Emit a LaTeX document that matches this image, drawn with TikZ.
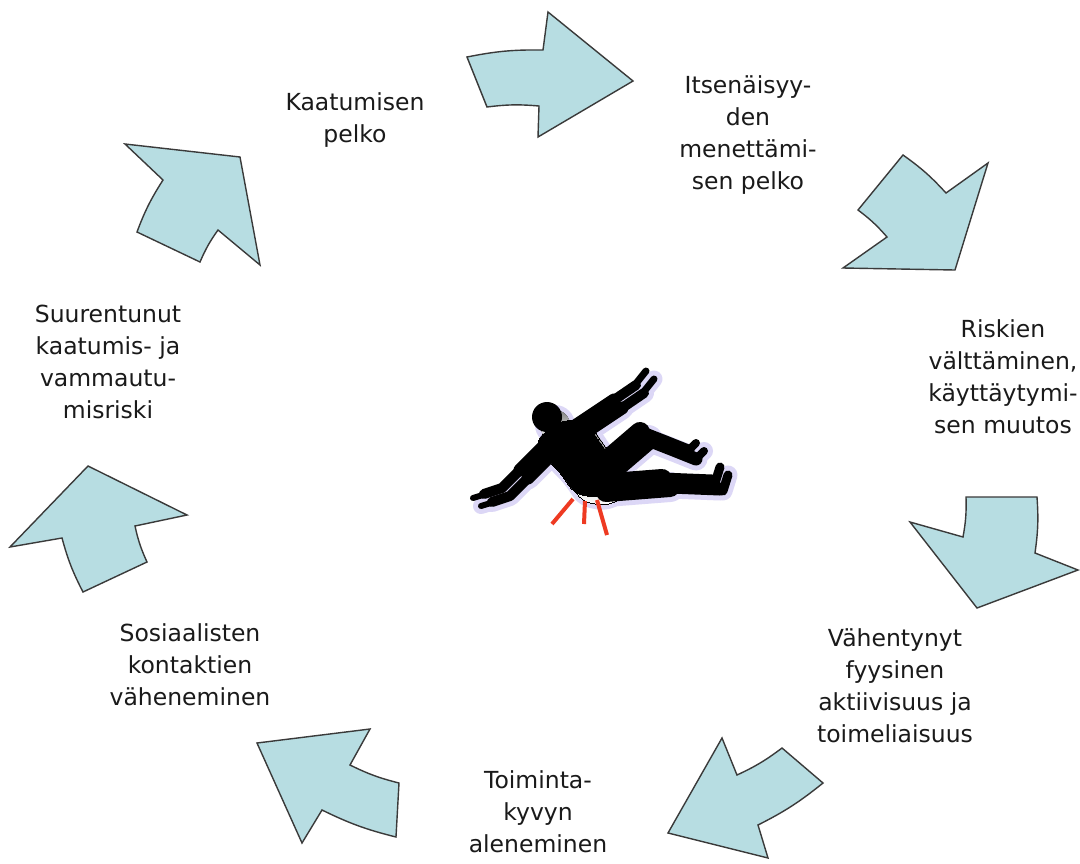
\documentclass[tikz,border=0pt]{standalone}
\usepackage{fontspec}
\setmainfont{DejaVu Sans}
\definecolor{arrfill}{HTML}{B7DDE2}
\definecolor{arrline}{HTML}{3A3A3A}
\definecolor{txt}{HTML}{1A1A1A}
\definecolor{shade}{HTML}{B4AAE8}
\definecolor{shadeout}{HTML}{DCD7F6}
\definecolor{hurt}{HTML}{EE3A22}
\tikzset{
  blockarrow/.style={fill=arrfill, draw=arrline, line width=1.4pt, line join=miter},
  label/.style={text=txt, align=center, font=\fontsize{23.5}{32}\selectfont, inner sep=0pt},
  limb/.style={line width=#1, line cap=round, line join=round},
}
\newcommand\fallfig[2][0pt]{%
  \fill[#2] (547,417) circle ({15pt+#1/2});
  \filldraw[#2, line width=#1, line join=round, rounded corners=8] (536,440) -- (558,422) -- (584,419) -- (598,440) -- (616,464) -- (616,490) -- (596,498) -- (574,493) -- (560,472) -- (544,456) -- cycle;
  \draw[#2, limb={13pt+#1}] (572,428) -- (614,400);
  \draw[#2, limb={10pt+#1}] (614,400) -- (636,385);
  \draw[#2, limb={7pt+#1}] (634,386) -- (646,371);
  \draw[#2, limb={13pt+#1}] (546,444) -- (520,470);
  \draw[#2, limb={10pt+#1}] (520,470) -- (502,488) -- (484,494);
  \draw[#2, limb={6pt+#1}] (486,494) -- (473,498);
  \draw[#2, limb={20pt+#1}] (598,468) -- (640,432);
  \draw[#2, limb={13pt+#1}] (640,432) -- (668,443) -- (688,451);
  \draw[#2, limb={8pt+#1}] (688,451) -- (696,443);
  \draw[#2, limb={20pt+#1}] (598,484) -- (662,479);
  \draw[#2, limb={13pt+#1}] (662,479) -- (712,481);
  \draw[#2, limb={9pt+#1}] (715,483) -- (720,467);
}
\begin{document}
\begin{tikzpicture}[x=1pt, y=-1pt]
\useasboundingbox (0,0) rectangle (1080,863);
\fill[white] (0,0) rectangle (1080,863);

% block arrows
\draw[blockarrow] (467,57) to[bend left=6] (543,50) -- (548,12) -- (633,81) -- (538,137) -- (539,106) to[bend right=6] (487,107) -- cycle;
\draw[blockarrow] (903,155) to[bend left=6] (946,193) -- (988,163) -- (955,270) -- (843,268) -- (887,237) to[bend right=6] (858,210) -- cycle;
\draw[blockarrow] (966,497) -- (1037,497) to[bend left=6] (1035,553) -- (1078,570) -- (977,608) -- (910,522) -- (963,537) to[bend right=6] cycle;
\draw[blockarrow] (782,748) -- (823,783) to[bend left=6] (758,825) -- (768,858) -- (668,833) -- (722,738) -- (737,775) to[bend right=6] (782,748) -- cycle;
\draw[blockarrow] (399,783) -- (396,837) to[bend left=6] (322,810) -- (302,843) -- (257,743) -- (370,729) -- (350,765) to[bend right=6] (399,783) -- cycle;
\draw[blockarrow] (83,592) to[bend left=6] (62,538) -- (10,547) -- (88,466) -- (187,515) -- (135,526) to[bend right=6] (147,562) -- cycle;
\draw[blockarrow] (137,232) to[bend left=6] (163,180) -- (125,144) -- (240,157) -- (260,265) -- (218,230) to[bend right=6] (200,262) -- cycle;

% labels
\node[label] (t1) at (355,120) {Kaatumisen\\pelko};
\node[label] (t2) at (748,135) {Itsenäisyy-\\den\\menettämi-\\sen pelko};
\node[label] (t3) at (1003,377) {Riskien\\välttäminen,\\käyttäytymi-\\sen muutos};
\node[label] (t4) at (895,686) {Vähentynyt\\fyysinen\\aktiivisuus ja\\toimeliaisuus};
\node[label] (t5) at (538,812) {Toiminta-\\kyvyn\\aleneminen};
\node[label] (t6) at (190,665) {Sosiaalisten\\kontaktien\\väheneminen};
\node[label] (t7) at (108,362) {Suurentunut\\kaatumis- ja\\vammautu-\\misriski};

% falling figure with soft lavender shadow
\begin{scope}[shift={(8,8)}]
  \fallfig[10pt]{shadeout}
  \fallfig{shade}
\end{scope}
\fallfig{black}
\draw[hurt, line width=4pt] (573,499) -- (552,524);
\draw[hurt, line width=4pt] (585,501) -- (584,524);
\draw[hurt, line width=4pt] (597,500) -- (607,535);
\end{tikzpicture}
\end{document}
